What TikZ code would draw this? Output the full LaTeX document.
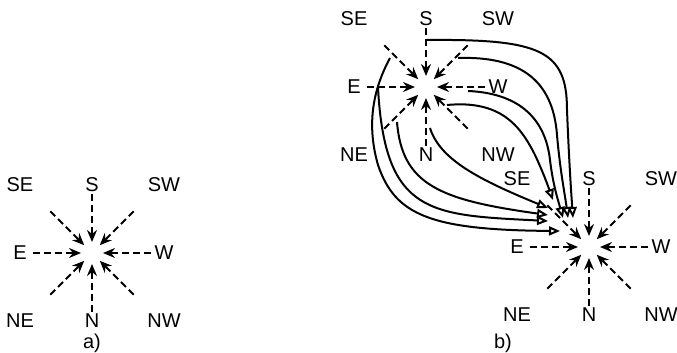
\documentclass[tikz,border=0pt]{standalone}
\usepackage{fontspec}
\setmainfont{Liberation Sans}
\usetikzlibrary{arrows.meta,calc}

\begin{document}
\begin{tikzpicture}[x=1pt,y=1pt,
	ray/.style={line width=2pt, dash pattern=on 7pt off 4pt, -{Stealth[length=12pt,width=10pt,inset=4pt]}},
	link/.style={line width=2pt, -{Triangle[open,fill=white,length=11pt,width=9pt]}},
	lbl/.style={font=\fontsize{20}{22}\selectfont, inner sep=0pt}]
\useasboundingbox (0,0) rectangle (677,353);

% the three stars
\foreach \c/\x/\y in {a/92/100, t/426/266, b/589/106}{
	\coordinate (\c) at (\x,\y);
	\foreach \d/\ang/\lx/\ly in {S/90/0/68, N/270/0/-68, E/180/-72/0, W/0/72/0, SE/135/-72/68, SW/45/72/68, NE/225/-72/-68, NW/315/72/-68}{
		\node[lbl] (\c\d) at ($(\c)+(\lx,\ly)$) {\d};
		\coordinate (\c\d-o) at ($(\c)+(\ang:59)$);
		\coordinate (\c\d-i) at ($(\c)+(\ang:11)$);
		\draw[ray] (\c\d-o) -- (\c\d-i);
	}
}

\node[lbl] (capa) at (92,10) {a)};
\node[lbl] (capb) at (503,10) {b)};

% where the links leave the upper star and where they stop
\foreach \d/\dx/\dy in {S/1/47, SW/32/29, W/42/-4, NW/21/-18, N/4/-41, NE/-29/-35, E/-48/-1, SE/-36/29}
	\coordinate (t\d-c) at ($(t)+(\dx,\dy)$);
\foreach \d/\dx/\dy in {S/-16/29, SW/-21/29, W/-26/29, NW/-36/47, N/-41/39, NE/-41/32, E/-41/26, SE/-29/16}
	\coordinate (b\d-e) at ($(b)+(\dx,\dy)$);

\draw[link] (tS-c) .. controls (540,314) and (567,303) .. (567,243) .. controls (569,193) and (571,163) .. (bS-e);
\draw[link] (tSW-c) .. controls (520,297) and (553,273) .. (557,218) .. controls (560,183) and (565,158) .. (bSW-e);
\draw[link] (tW-c) .. controls (515,260) and (545,238) .. (550,193) .. controls (553,168) and (558,153) .. (bW-e);
\draw[link] (tNW-c) .. controls (500,253) and (520,228) .. (535,198) .. controls (543,181) and (548,167) .. (bNW-e);
\draw[link] (tN-c) .. controls (440,193) and (480,173) .. (bN-e);
\draw[link] (tNE-c) .. controls (402,168) and (440,153) .. (bNE-e);
\draw[link] (tE-c) .. controls (385,138) and (430,138) .. (bE-e);
\draw[link] (tSE-c) .. controls (370,258) and (368,223) .. (378,188) .. controls (395,138) and (430,123) .. (bSE-e);
\end{tikzpicture}
\end{document}
